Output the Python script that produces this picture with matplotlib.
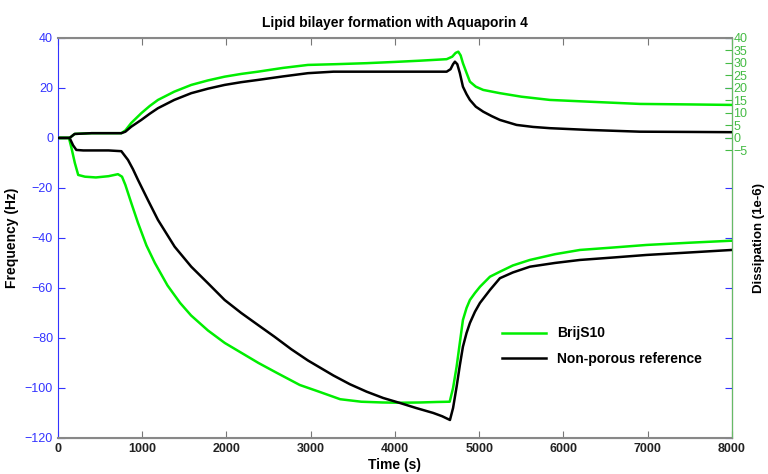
import numpy as np
import matplotlib
matplotlib.use('Agg')
import matplotlib.pyplot as plt

plt.rcParams['font.family'] = ['Liberation Sans', 'DejaVu Sans']

# frequency (Hz), left axis
t_fg = [0, 130, 160, 200, 240, 320, 450, 600, 712, 760, 800, 870, 950, 1050, 1150, 1300, 1450, 1580,
        1780, 1980, 2180, 2380, 2600, 2870, 3100, 3350, 3600, 3850, 4060, 4300, 4500, 4650, 4690,
        4732, 4770, 4807, 4850, 4890, 4950, 5010, 5128, 5246, 5400, 5602, 5900, 6196, 6600, 6987,
        7500, 8000]
f_green = [0, 0, -4, -10, -14.8, -15.5, -15.8, -15.3, -14.5, -15.5, -18.8, -26, -34, -43, -50, -59,
           -66, -71, -77, -82, -86, -90, -94, -98.8, -101.5, -104.5, -105.5, -105.8, -105.9, -105.8,
           -105.6, -105.5, -100, -91.5, -82, -72.8, -68, -64.8, -62, -59.5, -55.5, -53.5, -51, -48.8,
           -46.5, -44.8, -43.8, -42.8, -41.9, -41.1]

t_fb = [0, 138, 180, 218, 300, 450, 600, 752, 831, 890, 950, 1070, 1187, 1385, 1582, 1780, 1978,
        2175, 2374, 2570, 2769, 2967, 3269, 3465, 3665, 3860, 4059, 4250, 4455, 4560, 4653, 4690,
        4732, 4770, 4807, 4850, 4890, 4950, 5009, 5128, 5246, 5400, 5602, 5900, 6196, 6600, 6987,
        7500, 8000]
f_black = [0, 0, -3, -4.8, -5, -5, -5, -5.3, -8.8, -12.5, -16.8, -25, -32.8, -43.5, -51.5, -58.1,
           -64.8, -70, -74.8, -79.5, -84.5, -89, -95, -98.5, -101.5, -104, -106, -108, -110,
           -111.3, -112.8, -108, -99.5, -91, -83.5, -78, -74, -69.5, -66, -60.8, -56.1, -53.8, -51.5,
           -50, -48.8, -47.8, -46.8, -45.8, -44.8]

# dissipation (1e-6), right axis
t_dg = [0, 138, 198, 400, 600, 752, 800, 870, 989, 1090, 1187, 1380, 1582, 1780, 1978, 2175, 2374,
        2670, 2967, 3300, 3665, 4000, 4300, 4614, 4680, 4720, 4752, 4780, 4807, 4850, 4890, 4960,
        5048, 5246, 5500, 5840, 6300, 6908, 7500, 8000]
d_green = [0, 0, 1.6, 1.9, 1.9, 1.9, 3, 6, 9.9, 12.8, 15.2, 18.5, 21.2, 23, 24.5, 25.6, 26.5,
           28, 29.2, 29.5, 29.9, 30.4, 30.9, 31.5, 32.5, 34, 34.5, 33, 29.9, 26, 22.5, 20.5,
           19.2, 17.9, 16.5, 15.2, 14.5, 13.6, 13.4, 13.2]

t_db = [0, 138, 198, 400, 600, 752, 800, 870, 989, 1090, 1187, 1380, 1582, 1780, 1978, 2175, 2374,
        2670, 2967, 3269, 3665, 4000, 4300, 4614, 4660, 4690, 4712, 4740, 4770, 4807, 4850, 4890,
        4960, 5048, 5150, 5246, 5444, 5640, 5840, 6300, 6908, 7500, 8000]
d_black = [0, 0, 1.6, 1.9, 1.9, 1.9, 2.5, 4.5, 7.2, 9.7, 11.9, 15.2, 17.9, 19.7, 21.2, 22.3, 23.2,
           24.6, 25.9, 26.5, 26.5, 26.5, 26.5, 26.5, 27.5, 29.5, 30.5, 29.5, 26, 20.5, 17.5, 15.2,
           12.5, 10.5, 8.7, 7.2, 5.2, 4.4, 3.9, 3.2, 2.5, 2.4, 2.3]

fig = plt.figure(figsize=(7.68, 4.74), dpi=100)
ax = fig.add_axes([0.0755, 0.076, 0.8775, 0.844])
ax2 = ax.twinx()

ax.plot(t_fg, f_green, color='#00ee00', lw=1.8, label='BrijS10')
ax.plot(t_fb, f_black, color='black', lw=1.8, label='Non-porous reference')
ax2.plot(t_dg, d_green, color='#00ee00', lw=1.8)
ax2.plot(t_db, d_black, color='black', lw=1.8)

ax.set_xlim(0, 8000)
ax.set_ylim(-120, 40)
ax2.set_ylim(-120, 40)
ax.set_yticks(np.arange(-120, 41, 20))
ax2.set_yticks(np.arange(-5, 41, 5))
ax.set_xticks(np.arange(0, 8001, 1000))

ax.tick_params(axis='y', colors='#3333ff', direction='in', right=True, length=5, labelsize=9)
ax.tick_params(axis='x', colors='#777777', labelcolor='#222222', direction='in', top=True, length=5, labelsize=9)
ax2.tick_params(axis='y', colors='#44bb44', labelcolor='#44bb44', direction='in', length=5, labelsize=9, pad=1)
for lbl in ax.get_xticklabels():
    lbl.set_fontweight('bold')

ax.spines['left'].set_color('#3333ff')
ax.spines['top'].set_color('#888888')
ax.spines['bottom'].set_color('#888888')
ax2.spines['right'].set_color('#66bb66')
ax2.spines['left'].set_visible(False)
ax2.spines['top'].set_color('#888888')
ax2.spines['bottom'].set_color('#888888')
ax.spines['top'].set_linewidth(1.5)
ax.spines['bottom'].set_linewidth(1.5)

ax.set_title('Lipid bilayer formation with Aquaporin 4', fontsize=10, fontweight='bold', pad=8)
ax.set_xlabel('Time (s)', fontsize=10, fontweight='bold', labelpad=2)
ax.set_ylabel('Frequency (Hz)', fontsize=10, fontweight='bold')
ax2.set_ylabel('Dissipation (1e-6)', fontsize=9.5, fontweight='bold')
ax2.yaxis.set_label_coords(1.031, 0.5)

leg = ax.legend(loc='upper left', bbox_to_anchor=(0.64, 0.31), frameon=False,
                fontsize=10, handlelength=3.2, labelspacing=0.8)
for txt in leg.get_texts():
    txt.set_fontweight('bold')

fig.savefig('out.png', dpi=100)
